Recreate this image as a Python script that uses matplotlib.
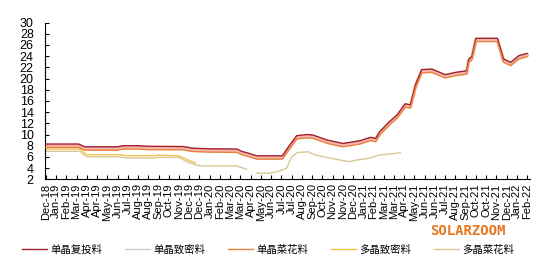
import numpy as np
import matplotlib.pyplot as plt

plt.rcParams['font.family'] = ['Liberation Sans', 'Noto Sans CJK SC', 'DejaVu Sans']

# date labels on the x axis (one per tick)
labels = ['Dec-18', 'Jan-19', 'Feb-19', 'Mar-19', 'Apr-19', 'Apr-19', 'May-19', 'Jun-19',
          'Jul-19', 'Aug-19', 'Aug-19', 'Sep-19', 'Oct-19', 'Nov-19', 'Dec-19', 'Dec-19',
          'Jan-20', 'Feb-20', 'Mar-20', 'Mar-20', 'Apr-20', 'May-20', 'Jun-20', 'Jul-20',
          'Jul-20', 'Aug-20', 'Sep-20', 'Oct-20', 'Nov-20', 'Nov-20', 'Dec-20', 'Jan-21',
          'Feb-21', 'Mar-21', 'Mar-21', 'Apr-21', 'May-21', 'Jun-21', 'Jun-21', 'Jul-21',
          'Aug-21', 'Sep-21', 'Oct-21', 'Oct-21', 'Nov-21', 'Dec-21', 'Jan-22', 'Feb-22']

# mono-crystal series (position in label steps)
t_mono = [0, 3.2, 3.8, 7.0, 7.5, 9.0, 10.0, 13.4, 14.4, 16.0,
          18.7, 19.1, 19.7, 20.6, 23.1, 23.7, 24.5, 25.5, 26.1, 27.5,
          29.0, 30.7, 31.7, 32.2, 32.6, 33.5, 34.3, 35.1, 35.6, 36.1,
          36.7, 37.7, 39.0, 40.0, 41.1, 41.3, 41.6, 42.0, 44.1, 44.7,
          45.4, 46.2, 47.0]
mono_recharge = [8.3, 8.3, 7.8, 7.8, 8.0, 8.0, 7.9, 7.85, 7.55, 7.45,
                 7.4, 7.0, 6.7, 6.2, 6.2, 7.8, 9.8, 10.0, 9.9, 9.0,
                 8.4, 8.9, 9.5, 9.3, 10.5, 12.2, 13.5, 15.5, 15.3, 18.9,
                 21.6, 21.7, 20.7, 21.1, 21.4, 23.5, 23.9, 27.2, 27.2, 23.5,
                 22.9, 24.1, 24.5]
mono_dense = [8.0, 8.0, 7.5, 7.5, 7.7, 7.7, 7.6, 7.55, 7.25, 7.15,
              7.1, 6.7, 6.4, 5.9, 5.9, 7.5, 9.5, 9.7, 9.6, 8.7,
              8.1, 8.6, 9.2, 9.0, 10.2, 11.9, 13.2, 15.2, 15.0, 18.6,
              21.3, 21.4, 20.4, 20.8, 21.1, 23.2, 23.6, 26.9, 26.9, 23.2,
              22.6, 23.8, 24.2]
mono_flake = [7.7, 7.7, 7.2, 7.2, 7.4, 7.4, 7.3, 7.25, 6.95, 6.85,
              6.8, 6.4, 6.1, 5.6, 5.6, 7.2, 9.2, 9.4, 9.3, 8.4,
              7.8, 8.3, 8.9, 8.7, 9.9, 11.6, 12.9, 14.9, 14.7, 18.3,
              21.0, 21.1, 20.1, 20.5, 20.8, 22.9, 23.3, 26.6, 26.6, 22.9,
              22.3, 23.5, 23.9]

# multi-crystal series
t_poly_dense = [0, 3.3, 4.0, 7.0, 8.0, 10.5, 11.0, 13.0, 13.8, 14.6]
poly_dense = [7.4, 7.4, 6.4, 6.4, 6.2, 6.2, 6.3, 6.2, 5.5, 4.9]

t_poly_flake = [0, 3.3, 4.0, 7.0, 8.0, 10.5, 11.0, 13.0, 13.8, 14.6,
                15.1, 18.6, 19.6, 20.1, 20.6, 21.9, 22.9, 23.5, 24.0, 24.6,
                25.6, 26.3, 27.8, 29.6, 30.4, 31.5, 32.6, 33.6, 34.6]
poly_flake = [7.0, 7.0, 6.0, 6.0, 5.8, 5.8, 5.9, 5.9, 5.1, 4.6,
              4.4, 4.4, 3.8, np.nan, 3.1, 3.1, 3.5, 4.0, 6.0, 6.8,
              6.9, 6.35, 5.75, 5.15, 5.45, 5.75, 6.35, 6.5, 6.75]

fig = plt.figure(figsize=(5.54, 2.66), dpi=100)
ax = fig.add_axes([0.081, 0.326, 0.876, 0.589])

ax.plot(t_mono, mono_dense, color='#f4b8b0', lw=2.6, label='单晶致密料', zorder=2)
ax.plot(t_mono, mono_recharge, color='#a3202e', lw=1.0, label='单晶复投料', zorder=3)
ax.plot(t_mono, mono_flake, color='#e8823a', lw=1.0, label='单晶菜花料', zorder=3)
ax.plot(t_poly_dense, poly_dense, color='#f2c14e', lw=1.0, label='多晶致密料', zorder=2)
ax.plot(t_poly_flake, poly_flake, color='#d8c897', lw=1.0, label='多晶菜花料', zorder=2)

ax.set_ylim(2, 30)
ax.set_yticks(range(2, 31, 2))
ax.set_xlim(-0.1, 47.3)
ax.set_xticks(range(len(labels)))
ax.set_xticklabels(labels, rotation=90, fontsize=8)
ax.tick_params(axis='y', labelsize=9, direction='in', length=3, pad=8)
ax.tick_params(axis='x', direction='in', length=3, pad=3)
for s in ['top', 'right']:
    ax.spines[s].set_visible(False)

handles, names = ax.get_legend_handles_labels()
order = [1, 0, 2, 3, 4]
leg = fig.legend([handles[i] for i in order], [names[i] for i in order],
                 loc='center left', bbox_to_anchor=(0.04, 0.06), ncol=5, frameon=False,
                 prop={'family': ['Noto Sans CJK SC', 'DejaVu Sans'], 'size': 7.5},
                 handlelength=2.4, handletextpad=0.3, columnspacing=2.2,
                 borderpad=0, borderaxespad=0)
for line in leg.get_lines():
    line.set_linewidth(1.0)
leg.get_lines()[1].set_color('#d6c9c9')

fig.text(0.912, 0.13, 'SOLARZOOM', color='#e8761e', fontsize=10, fontweight='bold',
         family='DejaVu Sans Mono', ha='right', va='center')

fig.savefig('out.png', dpi=100)
